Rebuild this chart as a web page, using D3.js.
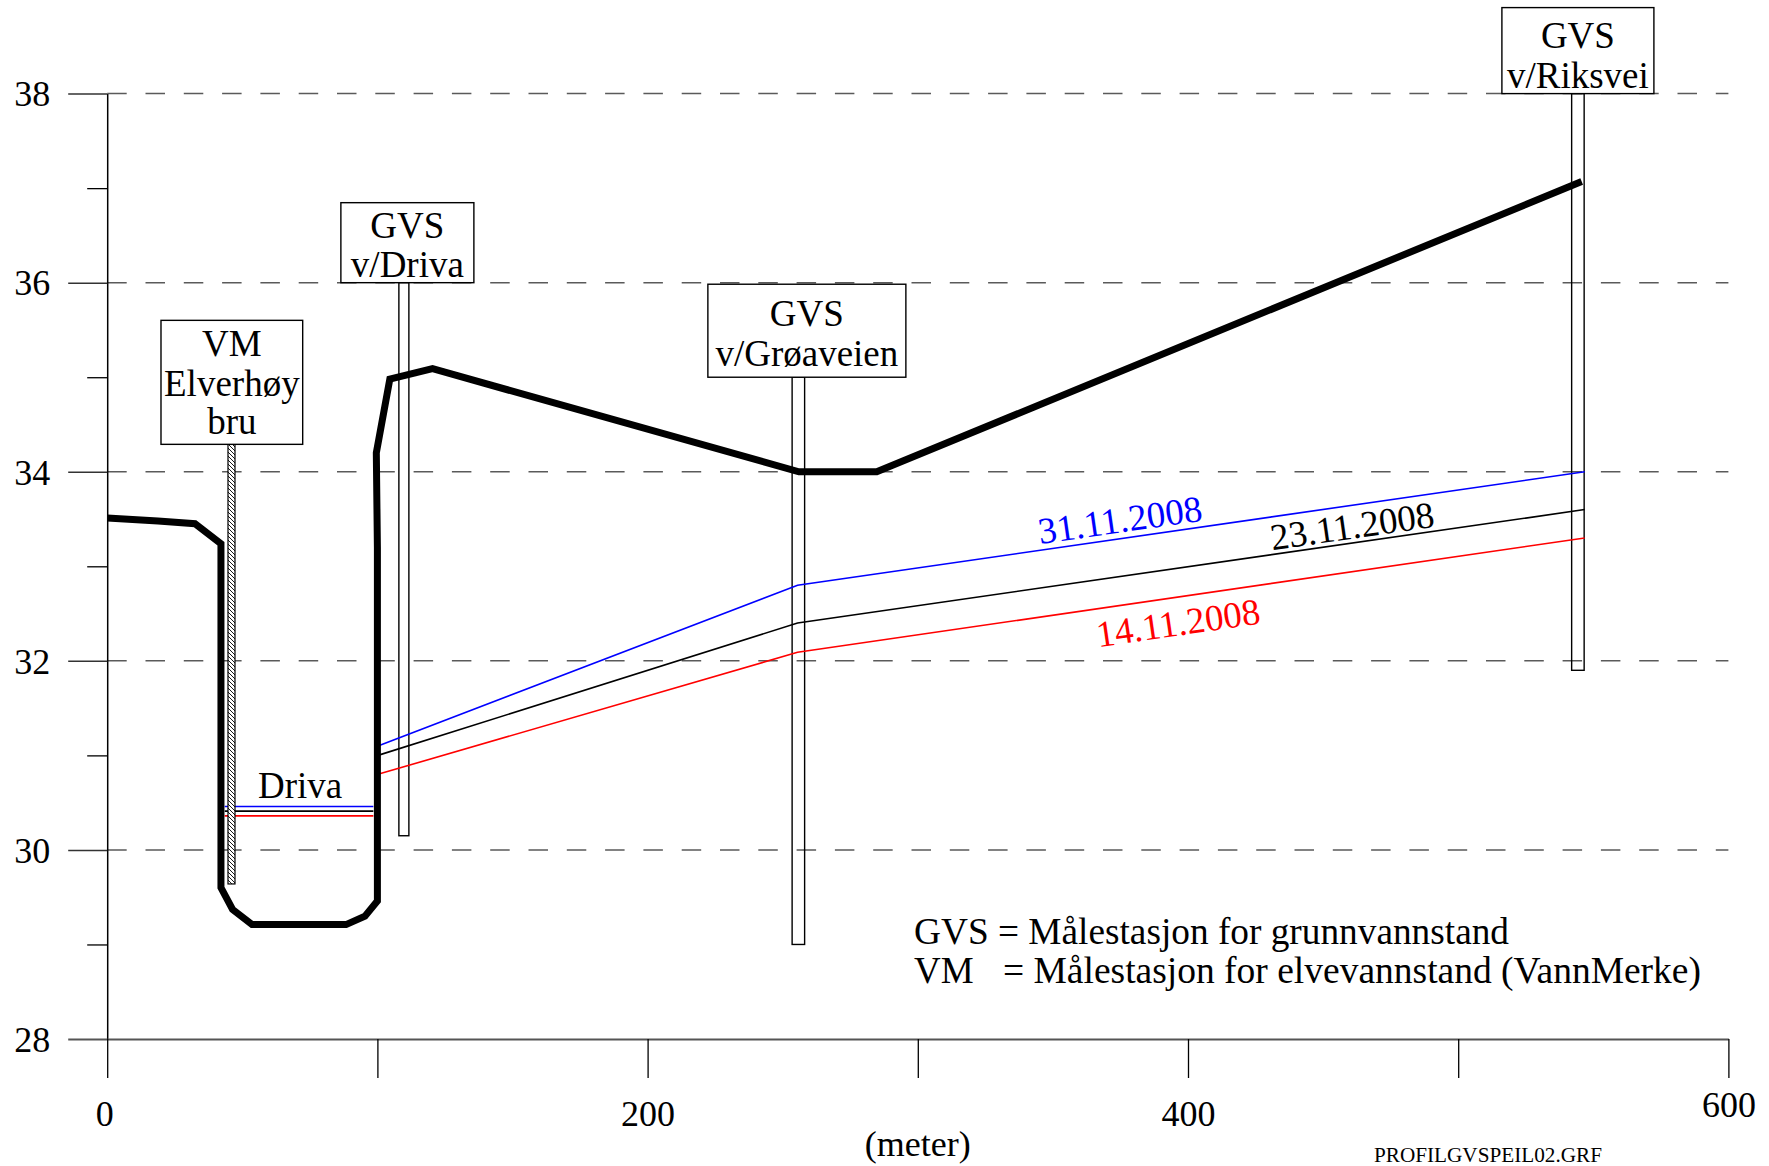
<!DOCTYPE html>
<html>
<head>
<meta charset="utf-8">
<script src="https://cdn.jsdelivr.net/npm/d3@7"></script>
<style>
  body { margin: 0; background: #fff; }
  svg { display: block; }
  text { font-family: "Liberation Serif", "Times New Roman", serif; fill: #000; }
</style>
</head>
<body>
<svg id="chart" width="1769" height="1166"></svg>
<script>
// Ground surface along the profile: distance (m) and elevation (m)
const groundX = [0, 18.8, 32.5, 42.1, 42.1, 46.4, 53.6, 88.4, 95.4, 100.0, 100.0, 99.6, 104.6, 120.4, 256.0, 284.8, 545.7];
const groundY = [33.51, 33.48, 33.45, 33.24, 29.6, 29.37, 29.21, 29.21, 29.3, 29.46, 33.2, 34.2, 34.98, 35.09, 34.0, 34.0, 37.07];

// Groundwater levels measured on three dates
const levelX = [100.2, 255.5, 546.8];
const level1411 = [30.80, 32.09, 33.30];
const level2311 = [31.00, 32.40, 33.60];
const level3111 = [31.10, 32.80, 34.00];
const seriesNames = ["14.11.2008", "23.11.2008", "31.11.2008"];

// River level in Driva on the same dates
const riverX = [43.5, 98.5];
const riverLevel = [30.36, 30.41, 30.46];

// Measuring stations: label lines, position (m), pipe top and bottom (m)
const stationLines = [["VM", "Elverhøy", "bru"], ["GVS", "v/Driva"], ["GVS", "v/Grøaveien"], ["GVS", "v/Riksvei"]];
const stationX = [46.0, 109.8, 255.8, 544.3];
const pipeTop = [34.29, 36.0, 35.0, 38.0];
const pipeBottom = [29.64, 30.15, 29.0, 31.9];

// Axis ticks
const yTicks = [28, 30, 32, 34, 36, 38];
const yMinor = [29, 31, 33, 35, 37];
const xTicks = [0, 100, 200, 300, 400, 500, 600];
const xLabels = ["0", "", "200", "", "400", "", "600"];

const legendLines = ["GVS = Målestasjon for grunnvannstand", "= Målestasjon for elvevannstand (VannMerke)"];

const svg = d3.select("#chart");
const x = d3.scaleLinear().domain([0, 600]).range([107.2, 1728.4]);
const y = d3.scaleLinear().domain([28, 38]).range([1039, 93.6]);

const defs = svg.append("defs");
const hatch = defs.append("pattern")
  .attr("id", "hatch").attr("patternUnits", "userSpaceOnUse")
  .attr("width", 4).attr("height", 4);
hatch.append("rect").attr("width", 4).attr("height", 4).attr("fill", "#fff");
hatch.append("path").attr("d", "M0,0L4,4M-1,3L1,5M3,-1L5,1")
  .attr("stroke", "#000").attr("stroke-width", 0.9);

// Dashed horizontal grid
svg.append("g").selectAll("line")
  .data(yTicks.filter(d => d > 28))
  .join("line")
  .attr("x1", x(0)).attr("x2", x(600))
  .attr("y1", d => y(d)).attr("y2", d => y(d))
  .attr("stroke", "#5a5a5a").attr("stroke-width", 1.5)
  .attr("stroke-dasharray", "19.5 18.8");

// Y axis
const yAxis = svg.append("g").attr("transform", `translate(${x(0)},0)`)
  .call(d3.axisLeft(y).tickValues(yTicks).tickSize(39).tickSizeOuter(0).tickPadding(18).tickFormat(d3.format("d")))
  .attr("font-family", null).attr("font-size", null);
yAxis.select(".domain").attr("stroke", "#000").attr("stroke-width", 1.5);
yAxis.selectAll(".tick line").attr("stroke", "#333").attr("stroke-width", 1.5);
yAxis.selectAll(".tick text").attr("font-size", 36).attr("dy", "0.34em");

const yMinorAxis = svg.append("g").attr("transform", `translate(${x(0)},0)`)
  .call(d3.axisLeft(y).tickValues(yMinor).tickSize(20).tickFormat(""));
yMinorAxis.select(".domain").remove();
yMinorAxis.selectAll(".tick line").attr("stroke", "#000").attr("stroke-width", 1.3);

// X axis
const xAxis = svg.append("g").attr("transform", `translate(0,${y(28)})`)
  .call(d3.axisBottom(x).tickValues(xTicks).tickSize(39).tickSizeOuter(0).tickFormat((d, i) => xLabels[i]))
  .attr("font-family", null).attr("font-size", null);
xAxis.select(".domain").attr("stroke", "#555").attr("stroke-width", 2.2);
xAxis.selectAll(".tick line").attr("stroke", "#000").attr("stroke-width", 1.3);
xAxis.selectAll(".tick text")
  .attr("font-size", 36)
  .attr("dy", null).attr("y", (d) => d === 600 ? 78 : 86.5)
  .attr("dx", d => d === 0 ? -3 : 0);
yAxis.selectAll(".tick").filter(d => d === 28).select("line").attr("stroke", "#555").attr("stroke-width", 2.2);

// Station pipes (outline only, except the hatched river gauge)
const pipeWidth = [7, 10, 12.5, 12.5];
svg.append("g").selectAll("rect")
  .data(stationX.map((sx, i) => i).filter(i => i > 0))
  .join("rect")
  .attr("x", i => x(stationX[i]) - pipeWidth[i] / 2)
  .attr("y", i => y(pipeTop[i]))
  .attr("width", i => pipeWidth[i])
  .attr("height", i => y(pipeBottom[i]) - y(pipeTop[i]))
  .attr("fill", "none").attr("stroke", "#000").attr("stroke-width", 1.4);

// River level lines in Driva
const seriesColors = ["#ff0000", "#000000", "#0000ff"];
svg.append("g").selectAll("line")
  .data(riverLevel)
  .join("line")
  .attr("x1", x(riverX[0])).attr("x2", x(riverX[1]))
  .attr("y1", d => y(d)).attr("y2", d => y(d))
  .attr("stroke", (d, i) => seriesColors[i]).attr("stroke-width", 1.6);

// River gauge (hatched)
svg.append("rect")
  .attr("x", x(stationX[0]) - pipeWidth[0] / 2)
  .attr("y", y(pipeTop[0]))
  .attr("width", pipeWidth[0])
  .attr("height", y(pipeBottom[0]) - y(pipeTop[0]))
  .attr("fill", "url(#hatch)").attr("stroke", "#000").attr("stroke-width", 1.2);

// Groundwater level lines
const levels = [level1411, level2311, level3111];
const line = d3.line().x(d => x(d[0])).y(d => y(d[1]));
svg.append("g").selectAll("path")
  .data(levels)
  .join("path")
  .attr("d", s => line(levelX.map((lx, i) => [lx, s[i]])))
  .attr("fill", "none")
  .attr("stroke", (d, i) => seriesColors[i]).attr("stroke-width", 1.6);

// Ground surface
svg.append("path")
  .attr("d", line(groundX.map((gx, i) => [gx, groundY[i]])))
  .attr("fill", "none").attr("stroke", "#000").attr("stroke-width", 7)
  .attr("stroke-linejoin", "miter").attr("stroke-miterlimit", 4);

// Station label boxes
const boxLayout = [
  { dx: 0.35, w: 141.7, h: 124, base: [35.5, 75.5, 114] },
  { dx: 3.5, w: 133, h: 80, base: [35, 74] },
  { dx: 8.5, w: 198, h: 93, base: [42, 81.5] },
  { dx: 0, w: 152, h: 86, base: [40, 80.5] }
];
stationLines.forEach((lines, i) => {
  const b = boxLayout[i];
  const cx = x(stationX[i]) + b.dx;
  const bottom = y(pipeTop[i]);
  const top = bottom - b.h;
  const g = svg.append("g");
  g.append("rect")
    .attr("x", cx - b.w / 2).attr("y", top)
    .attr("width", b.w).attr("height", b.h)
    .attr("fill", "#fff").attr("stroke", "#000").attr("stroke-width", 1.4);
  g.selectAll("text").data(lines).join("text")
    .attr("x", cx).attr("y", (d, j) => top + b.base[j])
    .attr("text-anchor", "middle").attr("font-size", 37)
    .text(d => d);
});

// River name
svg.append("text")
  .attr("x", x(71.4)).attr("y", 798)
  .attr("text-anchor", "middle").attr("font-size", 37)
  .text("Driva");

// Date labels, rotated along their lines
const dateLabelPos = [[397.0, 32.27], [461.4, 33.295], [375.5, 33.36]];
levels.forEach((s, i) => {
  const ang = Math.atan2(y(s[2]) - y(s[1]), x(levelX[2]) - x(levelX[1])) * 180 / Math.PI;
  const px = x(dateLabelPos[i][0]), py = y(dateLabelPos[i][1]);
  svg.append("text")
    .attr("transform", `translate(${px},${py}) rotate(${ang})`)
    .attr("text-anchor", "middle").attr("font-size", 37)
    .style("fill", seriesColors[i])
    .text(seriesNames[i]);
});

// Legend
svg.append("text").attr("x", 914).attr("y", 944).attr("font-size", 37)
  .attr("textLength", 595).attr("lengthAdjust", "spacingAndGlyphs")
  .text(legendLines[0]);
svg.append("text").attr("x", 914).attr("y", 983).attr("font-size", 37).text("VM");
svg.append("text").attr("x", 1003).attr("y", 983).attr("font-size", 37)
  .attr("textLength", 698).attr("lengthAdjust", "spacingAndGlyphs")
  .text(legendLines[1]);

// Axis title and file name
svg.append("text").attr("x", x(300)).attr("y", 1156)
  .attr("text-anchor", "middle").attr("font-size", 36).text("(meter)");
svg.append("text").attr("x", 1374).attr("y", 1162).attr("font-size", 21)
  .attr("textLength", 228).attr("lengthAdjust", "spacingAndGlyphs")
  .text("PROFILGVSPEIL02.GRF");
</script>
</body>
</html>
